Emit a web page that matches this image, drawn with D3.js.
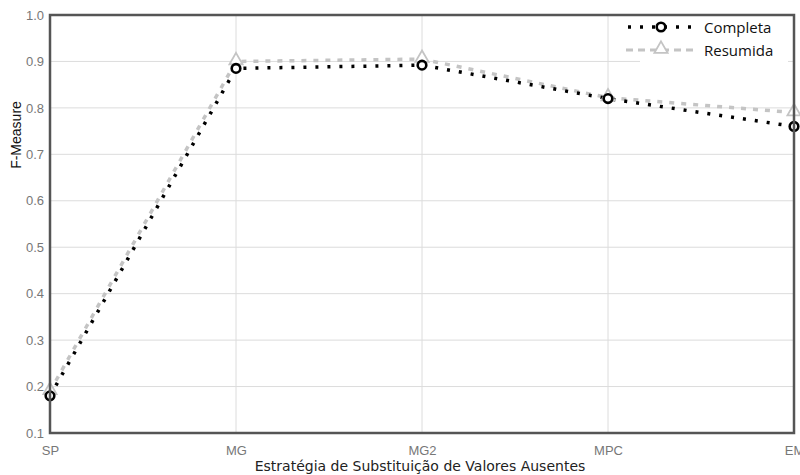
<!DOCTYPE html>
<html>
<head>
<meta charset="utf-8">
<script src="https://cdn.jsdelivr.net/npm/d3@7"></script>
<style>
  body { margin: 0; background: #fff; }
</style>
</head>
<body>
<div id="chart"></div>
<script>
const width = 800;
const height = 475;
const margin = {top: 15, right: 6, bottom: 42, left: 50};

const categories = ["SP", "MG", "MG2", "MPC", "EM"];
const completa = [0.18, 0.885, 0.892, 0.82, 0.76];
const resumida = [0.19, 0.90, 0.905, 0.822, 0.79];
const yTicks = [0.1, 0.2, 0.3, 0.4, 0.5, 0.6, 0.7, 0.8, 0.9, 1.0];

const svg = d3.select("#chart").append("svg")
  .attr("width", width)
  .attr("height", height)
  .style("font-family", "Arial, Liberation Sans, sans-serif");

const x = d3.scalePoint()
  .domain(categories)
  .range([margin.left, width - margin.right]);

const y = d3.scaleLinear()
  .domain([0.1, 1.0])
  .range([height - margin.bottom, margin.top]);

// grid lines
svg.append("g")
  .selectAll("line.h")
  .data(yTicks)
  .join("line")
  .attr("x1", margin.left).attr("x2", width - margin.right)
  .attr("y1", d => y(d)).attr("y2", d => y(d))
  .attr("stroke", "#dcdcdc").attr("stroke-width", 1);

svg.append("g")
  .selectAll("line.v")
  .data(categories)
  .join("line")
  .attr("x1", d => x(d)).attr("x2", d => x(d))
  .attr("y1", margin.top).attr("y2", height - margin.bottom)
  .attr("stroke", "#dcdcdc").attr("stroke-width", 1);

// axes
const yAxis = svg.append("g")
  .attr("transform", `translate(${margin.left},0)`)
  .call(d3.axisLeft(y).tickValues(yTicks).tickFormat(d3.format(".1f")).tickSize(0).tickPadding(6));
yAxis.select(".domain").remove();
yAxis.selectAll("text").attr("font-size", "13px").attr("fill", "#777")
  .style("font-family", "Arial, Liberation Sans, sans-serif");

const xAxis = svg.append("g")
  .attr("transform", `translate(0,${height - margin.bottom})`)
  .call(d3.axisBottom(x).tickSize(0).tickPadding(13));
xAxis.select(".domain").remove();
xAxis.selectAll("text").attr("font-size", "13px").attr("fill", "#777")
  .style("font-family", "Arial, Liberation Sans, sans-serif");

// lines
const line = d3.line()
  .x((d, i) => x(categories[i]))
  .y(d => y(d));

svg.append("path")
  .datum(resumida)
  .attr("d", line)
  .attr("fill", "none")
  .attr("stroke", "#c4c4c4")
  .attr("stroke-width", 3.5)
  .attr("stroke-dasharray", "5 7");

svg.append("path")
  .datum(completa)
  .attr("d", line)
  .attr("fill", "none")
  .attr("stroke", "#000")
  .attr("stroke-width", 3.5)
  .attr("stroke-dasharray", "3 9");

// markers
const tri = d3.symbol().type(d3.symbolTriangle).size(75);
svg.append("g")
  .selectAll("path")
  .data(resumida)
  .join("path")
  .attr("d", tri)
  .attr("transform", (d, i) => `translate(${x(categories[i])},${y(d) - 1})`)
  .attr("fill", "#fff")
  .attr("stroke", "#c4c4c4")
  .attr("stroke-width", 1.8);

svg.append("g")
  .selectAll("circle")
  .data(completa)
  .join("circle")
  .attr("cx", (d, i) => x(categories[i]))
  .attr("cy", d => y(d))
  .attr("r", 4.3)
  .attr("fill", "#fff")
  .attr("stroke", "#000")
  .attr("stroke-width", 2.6);

// frame
svg.append("rect")
  .attr("x", margin.left).attr("y", margin.top)
  .attr("width", width - margin.right - margin.left)
  .attr("height", height - margin.bottom - margin.top)
  .attr("fill", "none")
  .attr("stroke", "#555")
  .attr("stroke-width", 2.5);

// legend
const legend = svg.append("g");
legend.append("rect")
  .attr("x", 640).attr("y", 17).attr("width", 148).attr("height", 45)
  .attr("fill", "#fff");
legend.append("line")
  .attr("x1", 628).attr("x2", 696).attr("y1", 27).attr("y2", 27)
  .attr("stroke", "#000").attr("stroke-width", 3.5).attr("stroke-dasharray", "3 9");
legend.append("circle")
  .attr("cx", 661).attr("cy", 27).attr("r", 4.3)
  .attr("fill", "#fff").attr("stroke", "#000").attr("stroke-width", 2.6);
legend.append("line")
  .attr("x1", 626).attr("x2", 696).attr("y1", 50).attr("y2", 50)
  .attr("stroke", "#c4c4c4").attr("stroke-width", 3).attr("stroke-dasharray", "7 5");
legend.append("path")
  .attr("d", tri)
  .attr("transform", "translate(661,49)")
  .attr("fill", "#fff").attr("stroke", "#c4c4c4").attr("stroke-width", 1.8);
legend.append("text")
  .attr("x", 704).attr("y", 33)
  .attr("font-size", "15px").attr("fill", "#111")
  .style("font-family", "Open Sans, sans-serif")
  .text("Completa");
legend.append("text")
  .attr("x", 704).attr("y", 56)
  .attr("font-size", "15px").attr("fill", "#111")
  .style("font-family", "Open Sans, sans-serif")
  .text("Resumida");

// axis titles
svg.append("text")
  .attr("x", 420).attr("y", 471)
  .attr("text-anchor", "middle")
  .attr("font-size", "14px").attr("fill", "#222")
  .style("font-family", "DejaVu Sans, sans-serif")
  .text("Estratégia de Substituição de Valores Ausentes");

svg.append("text")
  .attr("transform", "translate(21,135) rotate(-90)")
  .attr("text-anchor", "middle")
  .attr("font-size", "14px").attr("fill", "#111")
  .style("font-family", "Arial, Liberation Sans, sans-serif")
  .text("F-Measure");
</script>
</body>
</html>
